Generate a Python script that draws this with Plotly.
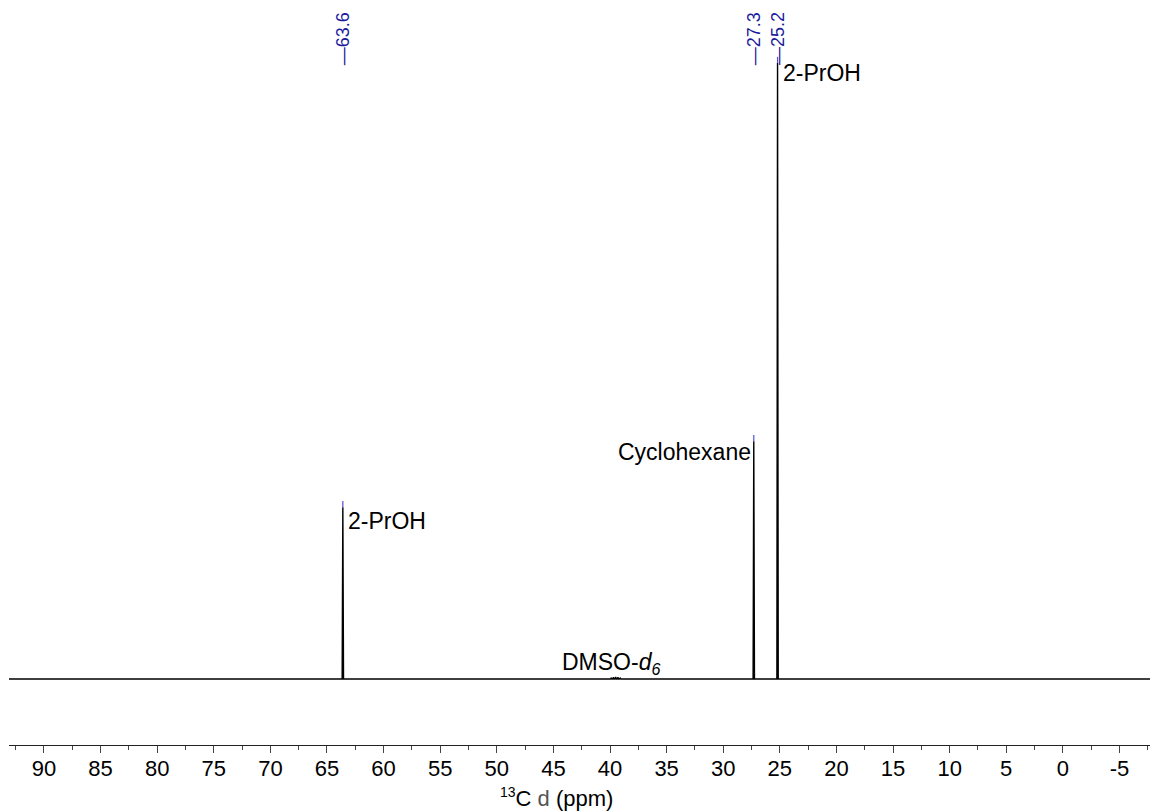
import plotly.graph_objects as go

# ---- data ----
peak_ppm = [63.6, 27.3, 25.2]
peak_height = [27.9, 38.6, 100.0]
peak_labels = ["63.6", "27.3", "25.2"]
dmso_ppm = [39.9, 39.7, 39.5, 39.3, 39.1]
dmso_height = [0.15, 0.3, 0.35, 0.3, 0.15]
x_range = [93.09, -7.70]
tick_vals = list(range(90, -10, -5))
tick_text = [str(v) for v in tick_vals]

W, H = 1150, 812
ML, MR, MT, MB = 9, 0, 0, 67
half_w = 0.06

# build spectrum trace from peak lists
all_p = sorted(zip(peak_ppm + dmso_ppm, peak_height + dmso_height), key=lambda t: -t[0])
xs = [x_range[0]]
ys = [0]
for p, h in all_p:
    xs += [p + half_w, p, p - half_w]
    ys += [0, h, 0]
xs.append(x_range[1])
ys.append(0)

fig = go.Figure()
fig.add_trace(go.Scatter(x=xs, y=ys, mode="lines",
                         line=dict(color="black", width=1.4), hoverinfo="skip"))

blue = "#1a1a9c"
# small blue markers at peak tops
for p, h in zip(peak_ppm, peak_height):
    fig.add_trace(go.Scatter(x=[p, p], y=[h, h + 1.0], mode="lines",
                             line=dict(color="#5050d0", width=1.2), hoverinfo="skip"))

ann = []
ph = H - MT - MB
def ypix(py):
    return 1 - (py - MT) / ph

# peak pick labels (rotated)
for p, lab in zip(peak_ppm, peak_labels):
    ann.append(dict(x=p, xref="x", y=ypix(67), yref="paper",
                    text="\u2014" + lab, textangle=-90, showarrow=False,
                    xanchor="center", yanchor="bottom",
                    font=dict(family="Arial, Liberation Sans", size=18, color=blue)))

lab_font = dict(family="Arial, Liberation Sans", size=23, color="black")

ann.append(dict(x=25.2, xref="x", y=ypix(73), yref="paper", text="2-PrOH",
                showarrow=False, xanchor="left", yanchor="middle", xshift=3, font=lab_font))
ann.append(dict(x=27.3, xref="x", y=ypix(452), yref="paper", text="Cyclohexane",
                showarrow=False, xanchor="right", yanchor="middle", xshift=-1, font=lab_font))
ann.append(dict(x=63.6, xref="x", y=ypix(521), yref="paper", text="2-PrOH",
                showarrow=False, xanchor="left", yanchor="middle", xshift=3, font=lab_font))
ann.append(dict(x=40.0, xref="x", y=ypix(663), yref="paper",
                text="DMSO-<i>d</i><sub><i>6</i></sub>",
                showarrow=False, xanchor="center", yanchor="middle", xshift=1, font=lab_font))
# axis title
ann.append(dict(x=(556 - ML) / (W - ML - MR), xref="paper", y=ypix(812), yref="paper",
                text="<sup><span style='font-size:14px'>13</span></sup>C "
                     "<span style='color:#555;font-weight:300'>d</span> (ppm)",
                showarrow=False, xanchor="center", yanchor="bottom", borderpad=0,
                font=dict(family="Arial, Liberation Sans", size=22, color="black")))

fig.update_layout(
    width=W, height=H,
    margin=dict(l=ML, r=MR, t=MT, b=MB),
    paper_bgcolor="white", plot_bgcolor="white",
    showlegend=False,
    annotations=ann,
    xaxis=dict(range=x_range, tickvals=tick_vals, ticktext=tick_text,
               showgrid=False, zeroline=False, showline=True, linecolor="#222",
               linewidth=1, ticks="outside", ticklen=7, tickcolor="#444", tickwidth=1,
               ticklabelstandoff=-3,
               tickfont=dict(family="Arial, Liberation Sans", size=22, color="black"),
               minor=dict(ticks="outside", ticklen=4, dtick=2.5, tick0=0,
                          tickcolor="#444", showgrid=False)),
    yaxis=dict(range=[-10.71, 110.23], visible=False, showgrid=False, zeroline=False),
)

fig.write_html("out.html", config={"displayModeBar": False},
               post_script="document.body.style.margin='0';document.body.style.overflow='hidden';")
